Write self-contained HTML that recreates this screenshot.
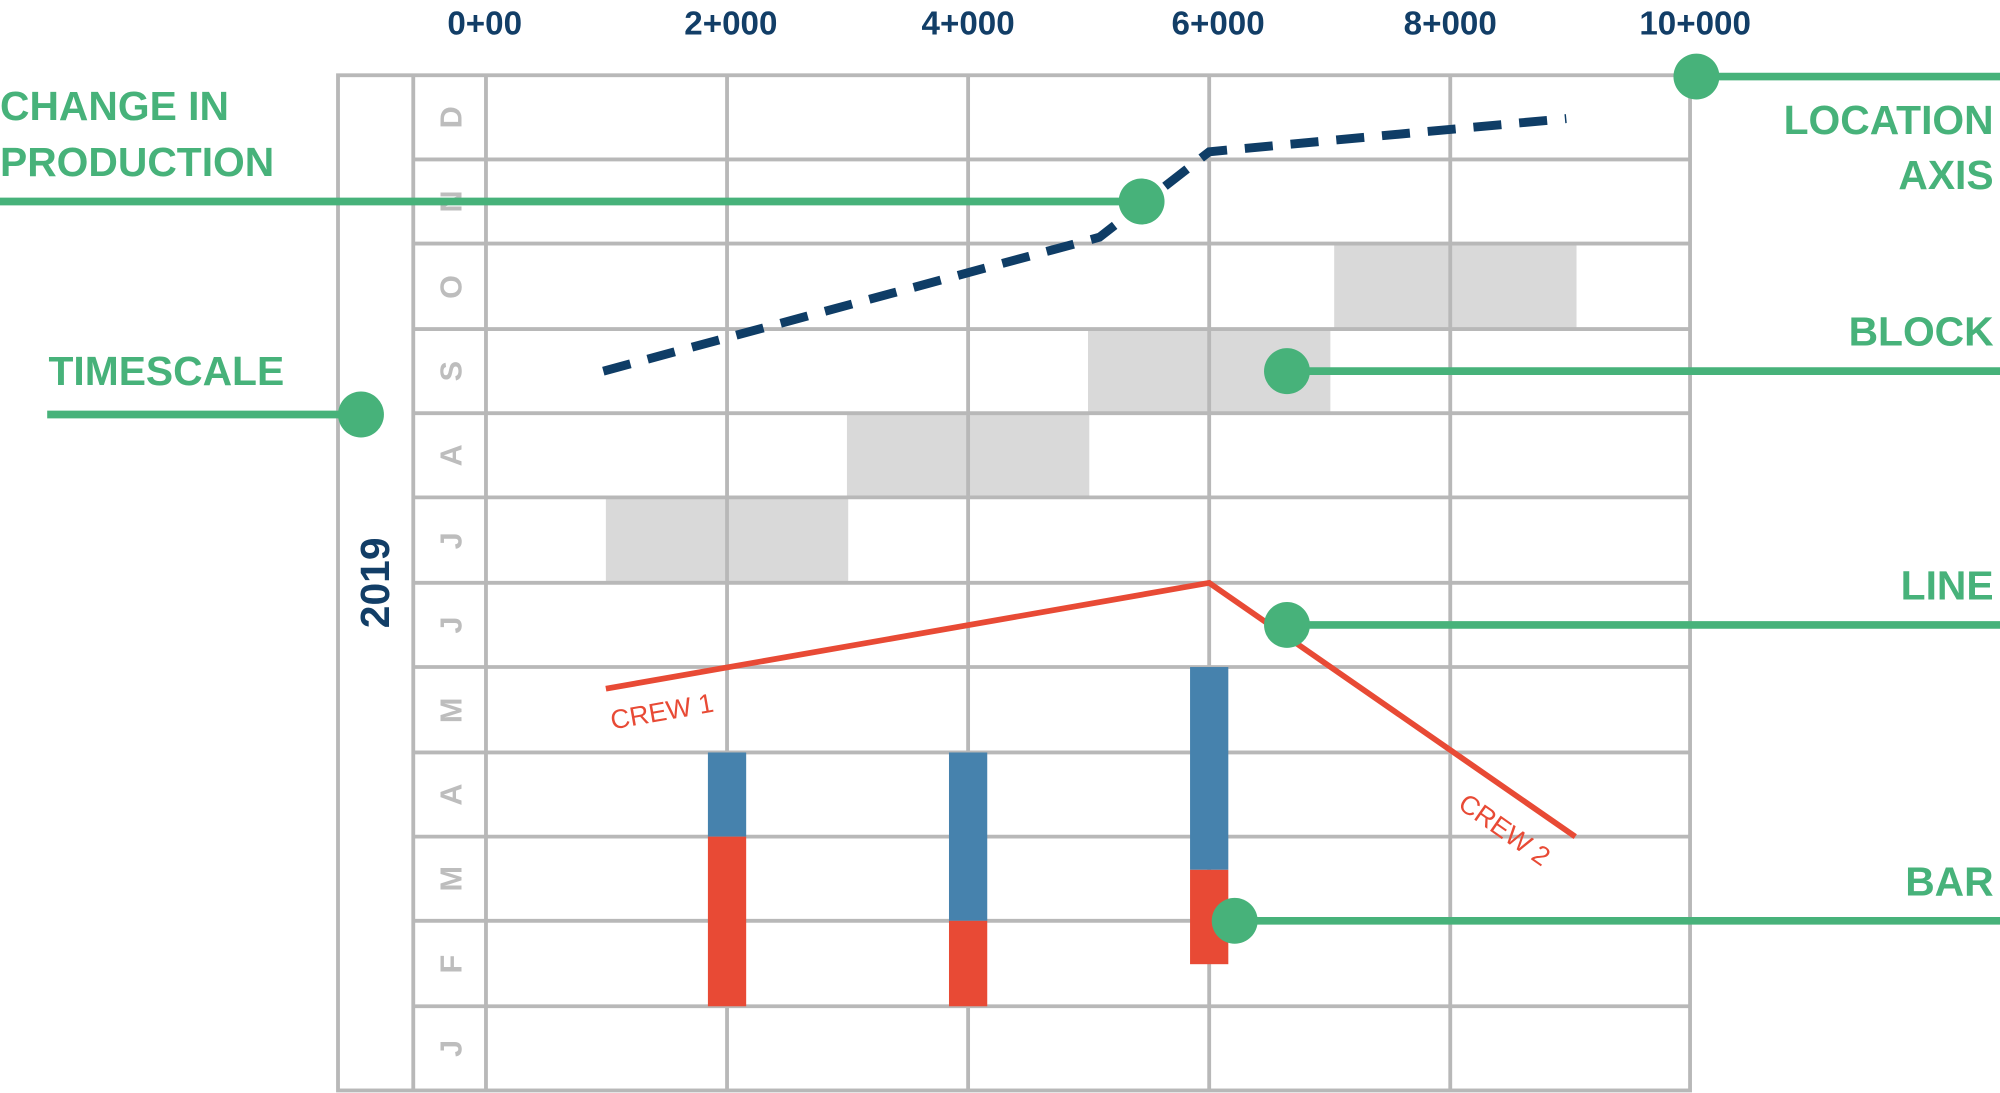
<!DOCTYPE html>
<html><head><meta charset="utf-8"><style>
html,body{margin:0;padding:0;background:#fff;}
svg{display:block;}
text{font-family:"Liberation Sans",sans-serif;}
</style></head><body>
<svg width="2000" height="1093" viewBox="0 0 1568 857" preserveAspectRatio="none" xmlns="http://www.w3.org/2000/svg">
<rect width="1568" height="857" fill="#fff"/>
<!-- blocks -->
<g fill="#d9d9d9">
<rect x="475" y="390" width="190" height="67"/>
<rect x="664" y="324" width="190" height="66"/>
<rect x="853" y="258" width="190" height="66"/>
<rect x="1046" y="191" width="190" height="67"/>
</g>
<!-- grid -->
<g stroke="#b8b8b8" stroke-width="3" fill="none">
<rect x="265" y="59" width="1060" height="796"/>
<line x1="324" y1="59" x2="324" y2="855"/>
<line x1="381" y1="59" x2="381" y2="855"/>
<line x1="570" y1="59" x2="570" y2="855"/>
<line x1="759" y1="59" x2="759" y2="855"/>
<line x1="948" y1="59" x2="948" y2="855"/>
<line x1="1137" y1="59" x2="1137" y2="855"/>
<line x1="324" y1="125" x2="1325" y2="125"/>
<line x1="324" y1="191" x2="1325" y2="191"/>
<line x1="324" y1="258" x2="1325" y2="258"/>
<line x1="324" y1="324" x2="1325" y2="324"/>
<line x1="324" y1="390" x2="1325" y2="390"/>
<line x1="324" y1="457" x2="1325" y2="457"/>
<line x1="324" y1="523" x2="1325" y2="523"/>
<line x1="324" y1="590" x2="1325" y2="590"/>
<line x1="324" y1="656" x2="1325" y2="656"/>
<line x1="324" y1="722" x2="1325" y2="722"/>
<line x1="324" y1="789" x2="1325" y2="789"/>
</g>
<!-- tick labels -->
<g fill="#123e67" font-size="26" font-weight="bold" text-anchor="middle">
<text x="380" y="27">0+00</text>
<text x="573" y="27">2+000</text>
<text x="759" y="27">4+000</text>
<text x="955" y="27">6+000</text>
<text x="1137" y="27">8+000</text>
<text x="1329" y="27">10+000</text>
</g>
<!-- months -->
<g fill="#bdbdbd" font-size="24" font-weight="bold" text-anchor="middle">
<text transform="translate(362,92) rotate(-90)">D</text>
<text transform="translate(362,158) rotate(-90)">N</text>
<text transform="translate(362,225) rotate(-90)">O</text>
<text transform="translate(362,291) rotate(-90)">S</text>
<text transform="translate(362,357) rotate(-90)">A</text>
<text transform="translate(362,424) rotate(-90)">J</text>
<text transform="translate(362,490) rotate(-90)">J</text>
<text transform="translate(362,557) rotate(-90)">M</text>
<text transform="translate(362,623) rotate(-90)">A</text>
<text transform="translate(362,689) rotate(-90)">M</text>
<text transform="translate(362,756) rotate(-90)">F</text>
<text transform="translate(362,822) rotate(-90)">J</text>
</g>
<text transform="translate(305,457) rotate(-90)" fill="#123e67" font-size="32" font-weight="bold" text-anchor="middle">2019</text>
<!-- dashed -->
<polyline points="473,291 862,186 948,119 1228,93" fill="none" stroke="#0f3d66" stroke-width="7" stroke-dasharray="22,14"/>
<!-- red line -->
<polyline points="475,540 948,457 1235,656" fill="none" stroke="#e84a35" stroke-width="4.5"/>
<text transform="translate(480,572) rotate(-10)" fill="#e84a35" font-size="21">CREW 1</text>
<text transform="translate(1142,633) rotate(35)" fill="#e84a35" font-size="21">CREW 2</text>
<!-- bars -->
<rect x="555" y="590" width="30" height="66" fill="#4682ad"/>
<rect x="555" y="656" width="30" height="133" fill="#e84a35"/>
<rect x="744" y="590" width="30" height="132" fill="#4682ad"/>
<rect x="744" y="722" width="30" height="67" fill="#e84a35"/>
<rect x="933" y="523" width="30" height="159" fill="#4682ad"/>
<rect x="933" y="682" width="30" height="74" fill="#e84a35"/>
<!-- green annotations -->
<g stroke="#47b27a" stroke-width="6">
<line x1="0" y1="158" x2="895" y2="158"/>
<line x1="1330" y1="60" x2="1568" y2="60"/>
<line x1="1009" y1="291" x2="1568" y2="291"/>
<line x1="1009" y1="490" x2="1568" y2="490"/>
<line x1="968" y1="722" x2="1568" y2="722"/>
<line x1="37" y1="325" x2="283" y2="325"/>
</g>
<g fill="#47b27a">
<circle cx="895" cy="158" r="18"/>
<circle cx="1330" cy="60" r="18"/>
<circle cx="1009" cy="291" r="18"/>
<circle cx="1009" cy="490" r="18"/>
<circle cx="968" cy="722" r="18"/>
<circle cx="283" cy="325" r="18"/>
</g>
<g fill="#47b27a" font-size="32" font-weight="bold">
<text x="0" y="94">CHANGE IN</text>
<text x="0" y="138">PRODUCTION</text>
<text x="38" y="302">TIMESCALE</text>
<g text-anchor="end">
<text x="1563" y="105">LOCATION</text>
<text x="1563" y="148">AXIS</text>
<text x="1563" y="271">BLOCK</text>
<text x="1563" y="470">LINE</text>
<text x="1563" y="702">BAR</text>
</g>
</g>
</svg>
</body></html>
